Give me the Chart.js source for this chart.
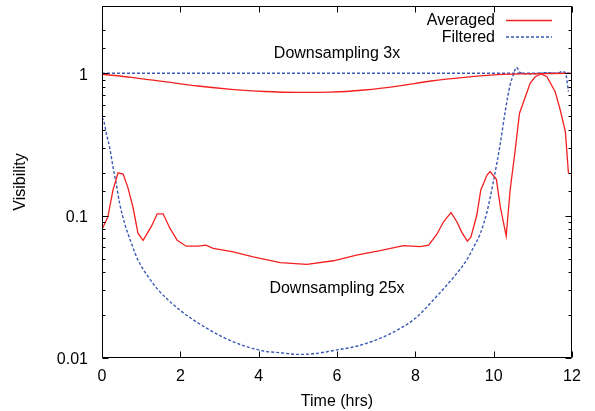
<!DOCTYPE html>
<html>
<head>
<meta charset="utf-8">
<script src="https://cdn.jsdelivr.net/npm/chart.js@4/dist/chart.umd.min.js"></script>
<style>
  body { margin: 0; background: #fff; }
  #wrap { width: 595px; height: 411px; }
</style>
</head>
<body>
<div id="wrap"><canvas id="chart" width="595" height="411"></canvas></div>
<script>
// Downsampling 3x
const avg3Hours = [0, 0.75, 1.6, 2.45, 3.3, 4.15, 5.0, 5.85, 6.7, 7.55, 8.4, 9.25, 10.1, 10.9, 11.5, 12];
const avg3Values = [0.985, 0.937, 0.873, 0.814, 0.772, 0.745, 0.735, 0.738, 0.763, 0.812, 0.883, 0.937, 0.978, 0.992, 0.997, 1.0];
const filt3Hours = [0, 1, 2, 3, 4, 5, 6, 7, 8, 9, 10, 11, 12];
const filt3Values = [1, 1, 1, 1, 1, 1, 1, 1, 1, 1, 1, 1, 1];

// Downsampling 25x
const avg25Hours = [0, 0.15, 0.28, 0.41, 0.54, 0.66, 0.79, 0.92, 1.05, 1.26, 1.41, 1.56, 1.73, 1.92, 2.15, 2.45, 2.65, 2.84,
  3.35, 3.86, 4.55, 5.23, 5.91, 6.5, 7.1, 7.7, 8.12, 8.34, 8.55, 8.72, 8.91, 9.06, 9.19, 9.33, 9.42, 9.57, 9.67, 9.83, 9.91,
  10.07, 10.17, 10.32, 10.42, 10.55, 10.66, 10.81, 10.93, 11.06, 11.21, 11.36, 11.57, 11.7, 11.83, 11.91];
const avg25Values = [0.08, 0.098, 0.151, 0.2, 0.196, 0.158, 0.115, 0.075, 0.067, 0.084, 0.103, 0.103, 0.082, 0.067, 0.061, 0.061, 0.062, 0.059,
  0.0557, 0.0514, 0.0467, 0.0455, 0.0482, 0.0529, 0.0567, 0.0615, 0.0606, 0.062, 0.074, 0.0906, 0.105, 0.0906, 0.076, 0.0663, 0.071, 0.101, 0.151, 0.193, 0.204,
  0.18, 0.115, 0.072, 0.151, 0.289, 0.524, 0.685, 0.851, 0.946, 0.99, 0.946, 0.743, 0.552, 0.389, 0.198];
const filt25Hours = [0, 0.05, 0.11, 0.2, 0.28, 0.37, 0.45, 0.58, 0.75, 0.92, 1.18, 1.44, 1.99, 2.67, 3.35, 4.12, 4.55, 5.0, 5.4,
  6.0, 6.5, 7.0, 7.5, 8.0, 8.5, 9.0, 9.31, 9.5, 9.66, 9.83, 10.0, 10.17, 10.3, 10.42, 10.5, 10.58, 10.68, 10.93, 11.36, 11.62, 11.74, 11.83, 11.91];
const filt25Values = [0.49, 0.457, 0.379, 0.297, 0.221, 0.164, 0.122, 0.088, 0.064, 0.0487, 0.0372, 0.03, 0.0217, 0.0162, 0.013, 0.0112, 0.0109, 0.0106, 0.0107,
  0.0114, 0.0121, 0.0134, 0.0155, 0.019, 0.0263, 0.0376, 0.0488, 0.061, 0.075, 0.1065, 0.178, 0.322, 0.552, 0.828, 0.973, 1.1, 1.01, 0.99, 1.01, 1.0, 1.026, 1.01, 0.743];

const xTicks = [0, 2, 4, 6, 8, 10, 12];
const yMajorTicks = [0.01, 0.1, 1];
const legendLabels = ['Averaged', 'Filtered'];
const notes = [
  { text: 'Downsampling 3x', x: 6, y: 1.37 },
  { text: 'Downsampling 25x', x: 6, y: 0.0305 }
];

const RED = '#f42020';
const BLUE = '#3a5ab4';
const FONT = "'Liberation Sans', Arial, Helvetica, sans-serif";

function pts(hours, values) {
  return hours.map((h, i) => ({ x: h, y: values[i] }));
}

function isMajor(v) {
  return yMajorTicks.some(m => Math.abs(v - m) < m * 1e-6);
}

const gnuplotLook = {
  id: 'gnuplotLook',
  afterDraw(chart) {
    const ctx = chart.ctx;
    const area = chart.chartArea;
    const xs = chart.scales.x, ys = chart.scales.y;
    ctx.save();
    ctx.setLineDash([]);
    ctx.globalAlpha = 1;
    ctx.strokeStyle = '#000';
    ctx.lineWidth = 1;

    const L = Math.round(area.left) + 0.5, R = Math.round(area.right) - 0.5;
    const T = Math.round(area.top) + 0.5, B = Math.round(area.bottom) - 0.5;

    // frame
    ctx.beginPath();
    ctx.moveTo(L, T); ctx.lineTo(R, T); ctx.lineTo(R, B); ctx.lineTo(L, B); ctx.closePath();

    // ticks pointing inward, mirrored
    xs.ticks.forEach(t => {
      const px = Math.round(xs.getPixelForValue(t.value)) + 0.5;
      ctx.moveTo(px, B); ctx.lineTo(px, B - 6);
      ctx.moveTo(px, T); ctx.lineTo(px, T + 6);
    });
    ys.ticks.forEach(t => {
      if (t.value < ys.min || t.value > ys.max) return;
      const py = Math.round(ys.getPixelForValue(t.value)) + 0.5;
      const len = isMajor(t.value) ? 6 : 3;
      ctx.moveTo(L, py); ctx.lineTo(L + len, py);
      ctx.moveTo(R, py); ctx.lineTo(R - len, py);
    });
    ctx.stroke();

    // labels
    ctx.fillStyle = '#000';
    ctx.font = '16px ' + FONT;
    ctx.textAlign = 'center';
    ctx.textBaseline = 'middle';
    notes.forEach(n => {
      ctx.fillText(n.text, xs.getPixelForValue(n.x), ys.getPixelForValue(n.y));
    });

    // legend
    const styles = [chart.data.datasets[2], chart.data.datasets[3]];
    ctx.textAlign = 'right';
    legendLabels.forEach((lab, i) => {
      const y = 21 + i * 16.5;
      ctx.fillStyle = '#000';
      ctx.fillText(lab, 495, y);
      ctx.strokeStyle = styles[i].borderColor;
      ctx.lineWidth = styles[i].borderWidth;
      ctx.setLineDash(styles[i].borderDash || []);
      ctx.beginPath();
      ctx.moveTo(506, y - 0.5); ctx.lineTo(552, y - 0.5);
      ctx.stroke();
    });
    ctx.restore();
  }
};

const solid = { borderColor: RED, borderWidth: 1.3, pointRadius: 0, fill: false };
const dashed = { borderColor: BLUE, borderWidth: 1.4, borderDash: [3, 2], pointRadius: 0, fill: false };

new Chart(document.getElementById('chart'), {
  type: 'line',
  data: {
    datasets: [
      Object.assign({ label: 'Averaged 3x', data: pts(avg3Hours, avg3Values), cubicInterpolationMode: 'monotone' }, solid),
      Object.assign({ label: 'Filtered 3x', data: pts(filt3Hours, filt3Values), tension: 0 }, dashed),
      Object.assign({ label: 'Averaged 25x', data: pts(avg25Hours, avg25Values), tension: 0 }, solid),
      Object.assign({ label: 'Filtered 25x', data: pts(filt25Hours, filt25Values), cubicInterpolationMode: 'monotone' }, dashed)
    ]
  },
  options: {
    responsive: false,
    animation: false,
    layout: { padding: { top: 6, right: 23, left: 0, bottom: 0 } },
    plugins: { legend: { display: false }, tooltip: { enabled: false } },
    scales: {
      x: {
        type: 'linear',
        min: 0,
        max: 12,
        afterBuildTicks: s => { s.ticks = xTicks.map(v => ({ value: v })); },
        afterFit: s => { s.height = 53; s.paddingLeft = 0; s.paddingRight = 0; },
        grid: { display: false, drawTicks: false },
        border: { display: false },
        ticks: { padding: 9, color: '#000', font: { family: FONT, size: 16 }, autoSkip: false, maxRotation: 0 },
        title: { display: true, text: 'Time (hrs)', color: '#000', font: { family: FONT, size: 16 }, padding: { top: 0, bottom: 0 } }
      },
      y: {
        type: 'logarithmic',
        min: 0.01,
        max: 2.97,
        afterFit: s => { s.width = 102; s.paddingTop = 0; s.paddingBottom = 0; },
        grid: { display: false, drawTicks: false },
        border: { display: false },
        ticks: {
          padding: 14,
          labelOffset: 2,
          color: '#000',
          autoSkip: false,
          font: { family: FONT, size: 16 },
          callback: v => isMajor(v) ? String(v) : ''
        },
        title: { display: true, text: 'Visibility', color: '#000', font: { family: FONT, size: 16 }, padding: { top: 11, bottom: 0 } }
      }
    }
  },
  plugins: [gnuplotLook]
});
</script>
</body>
</html>
